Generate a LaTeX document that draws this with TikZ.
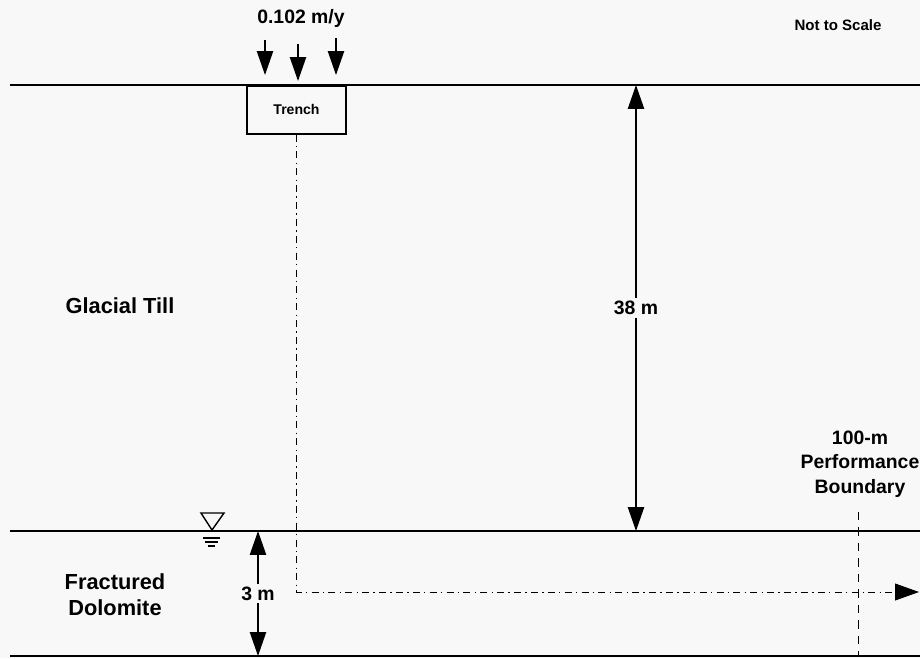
\documentclass[tikz,border=0pt]{standalone}
\usepackage{fontspec}
\setmainfont{Liberation Sans}
\usetikzlibrary{arrows.meta}
\definecolor{paper}{RGB}{248,248,248}
\tikzset{
  layer/.style={line width=1.8pt,draw=black},
  lbl/.style={font=\bfseries\fontsize{15.5}{18.5}\selectfont,align=center,inner sep=0pt},
  small/.style={font=\bfseries\fontsize{13.8}{17.4}\selectfont,align=center,inner sep=0pt},
  dim/.style={line width=1.2pt,{Triangle[length=17pt,width=11.5pt]}-{Triangle[length=17pt,width=11.5pt]}},
  rain/.style={line width=1.2pt,-{Triangle[length=17pt,width=11.5pt]}},
  dimlabel/.style={small,fill=paper,inner sep=2pt},
  flow/.style={line width=.6pt,dash pattern=on 5pt off 3pt on 1pt off 3pt,
               -{Triangle[length=17pt,width=12pt]}},
  bound/.style={line width=.6pt,dash pattern=on 6pt off 5pt},
  trenchbox/.style={draw,line width=1.1pt,fill=paper,minimum width=2.475cm,
                    minimum height=1.2cm,font=\bfseries\fontsize{10}{12}\selectfont}
}
\begin{document}
\begin{tikzpicture}[x=0.025cm,y=-0.025cm]
  \fill[paper] (0,0) rectangle (920,658);
  \useasboundingbox (0,0) rectangle (920,658);

  % layer boundaries
  \coordinate (tl) at (10,85);  \coordinate (tr) at (920,85);
  \coordinate (ml) at (10,531); \coordinate (mr) at (920,531);
  \coordinate (bl) at (10,656); \coordinate (br) at (920,656);
  \draw[layer] (tl) -- (tr);
  \draw[layer] (ml) -- (mr);
  \draw[layer] (bl) -- (br);

  % trench and infiltration
  \node[trenchbox,anchor=north] (trench) at (296.5,85) {Trench};
  \node[small] (rate) at (301,18) {0.102 m/y};
  \foreach \n/\x/\a/\b in {1/265/40/75,2/298/44/81,3/336/38/75} {
    \coordinate (r\n a) at (\x,\a);
    \coordinate (r\n b) at (\x,\b);
    \draw[rain] (r\n a) -- (r\n b);
  }

  \node[font=\bfseries\fontsize{10.7}{13}\selectfont,inner sep=0pt] (nts) at (838,25) {Not to Scale};

  % layer labels
  \node[lbl] (till) at (120,306) {Glacial Till};
  \node[lbl] (dolo) at (115,595) {Fractured\\Dolomite};

  % thicknesses
  \coordinate (d38a) at (636,85);
  \coordinate (d38b) at (636,531);
  \draw[dim] (d38a) -- node[dimlabel] (l38) {38 m} (d38b);
  \coordinate (d3a) at (258,531);
  \coordinate (d3b) at (258,656);
  \draw[dim] (d3a) -- node[dimlabel] (l3) {3 m} (d3b);

  % water table
  \coordinate (wt) at (212,530);
  \draw[line width=1pt,fill=paper] (201,513) -- (224,513) -- (wt) -- cycle;
  \draw[line width=.9pt] (203,538) -- (220,538);
  \draw[line width=.9pt] (205,542) -- (218,542);
  \draw[line width=.9pt] (208,546) -- (215,546);

  % flow path
  \coordinate (flowend) at (919,592);
  \draw[flow] (trench.south) |- (flowend);

  % performance boundary
  \node[small] (pb) at (860,464) {100-m\\Performance\\Boundary};
  \coordinate (pba) at (858,512);
  \coordinate (pbb) at (858,656);
  \draw[bound] (pba) -- (pbb);
\end{tikzpicture}
\end{document}
